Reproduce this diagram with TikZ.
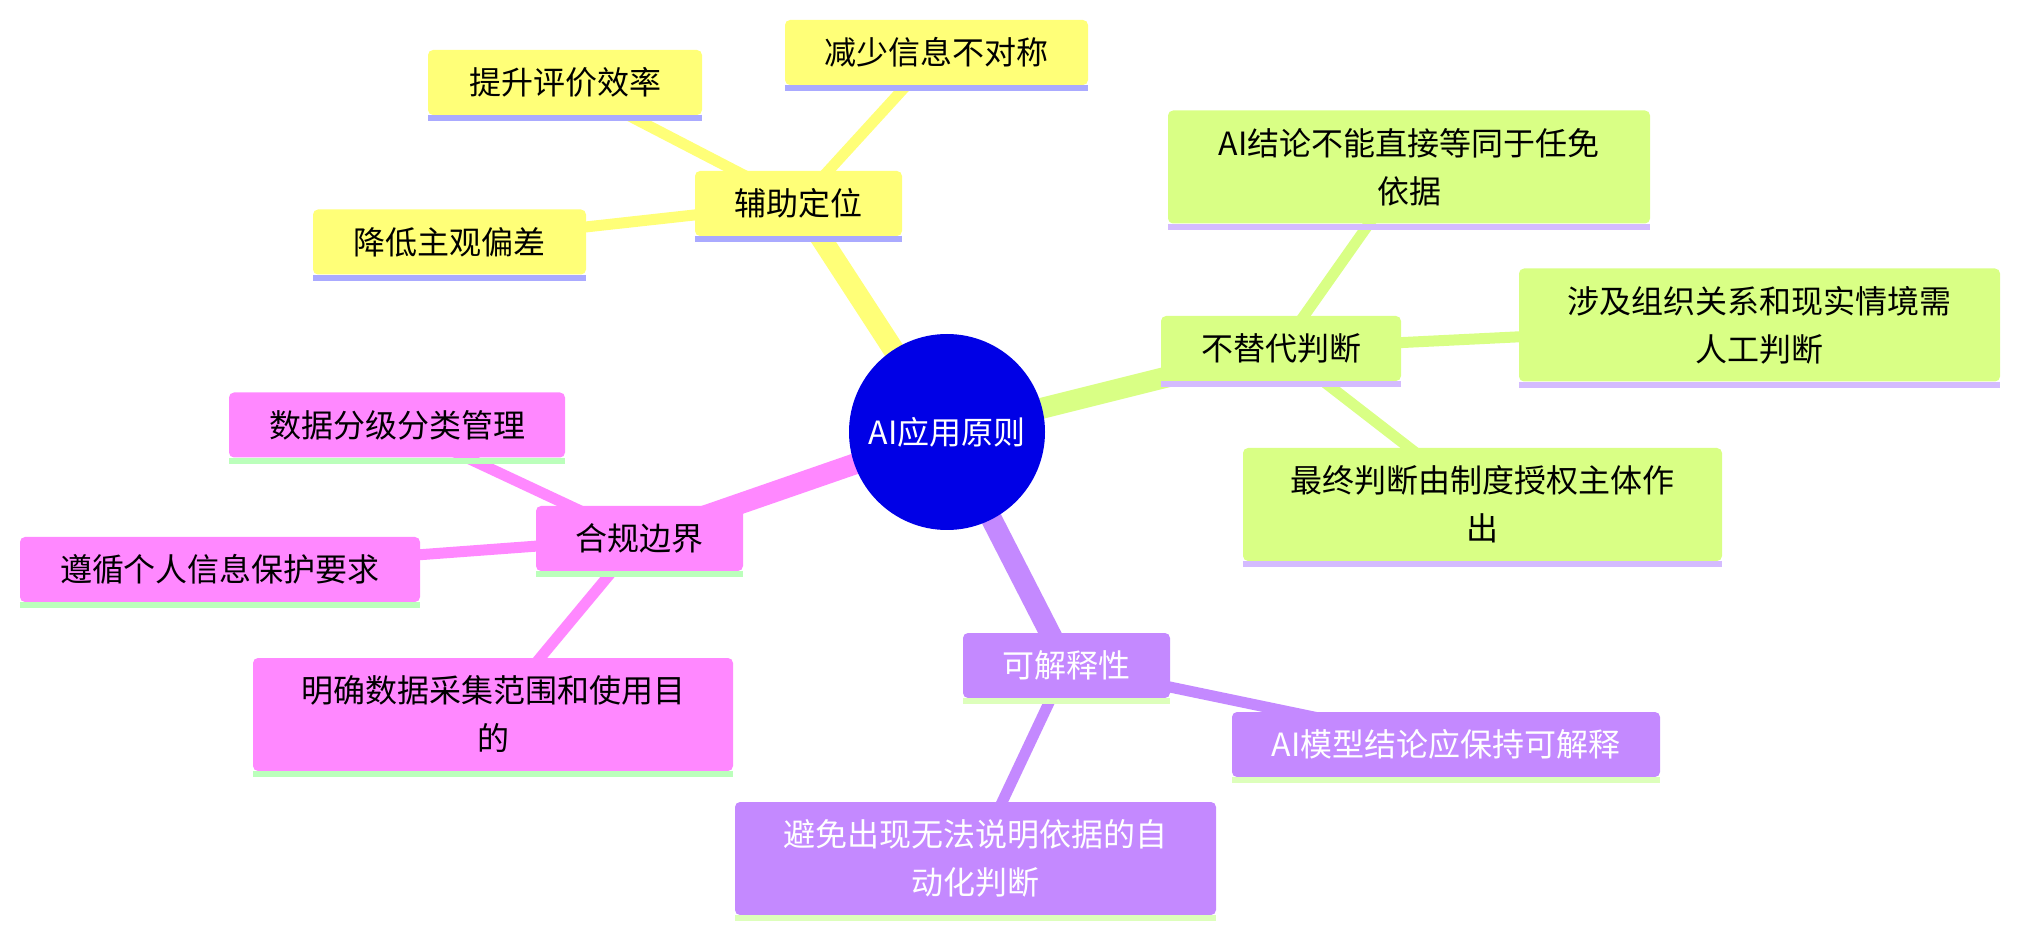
\documentclass[tikz,border=0pt]{standalone}
\usepackage{fontspec}
\setmainfont{Noto Sans CJK SC}
\usetikzlibrary{backgrounds}
\definecolor{croot}{HTML}{0000E6}
\definecolor{cyellow}{HTML}{FFFF78}
\definecolor{cyellowbar}{HTML}{AAAAFF}
\definecolor{cgreen}{HTML}{D9FF85}
\definecolor{cgreenbar}{HTML}{D4BBFF}
\definecolor{cpink}{HTML}{FF88FF}
\definecolor{cpinkbar}{HTML}{BBFFBB}
\definecolor{cpurple}{HTML}{C489FF}
\definecolor{cpurplebar}{HTML}{DDFFBB}
\tikzset{
  every picture/.style={font=\fontsize{24}{36}\selectfont},
  box/.style={fill=#1, rounded corners=3.75pt, align=center, inner sep=0pt},
  box/.default=cyellow,
  rootnode/.style={circle, fill=croot, text=white, minimum size=147pt, inner sep=0pt},
  trunk/.style={draw=#1, line width=15.75pt},
  twig/.style={draw=#1, line width=8.25pt},
}
\newcommand{\topic}[7]{
  \node[box=#5, text=#6, minimum width=#3*0.75pt, minimum height=#4*0.75pt] (#1) at (#2) {#7};
  \fill[#5bar] (#1.south west) rectangle ([yshift=-4.5pt]#1.south east);
}

\begin{document}
\begin{tikzpicture}[x=0.75pt, y=-0.75pt]
  \useasboundingbox (0,0) rectangle (2017,937);
  % centre
  \node[rootnode] (root) at (947,432) {AI应用原则};
  % yellow branch
  \topic{aux}{798.5,203.5}{207}{65}{cyellow}{black}{辅助定位}
  \topic{effic}{565,82.5}{274}{65}{cyellow}{black}{提升评价效率}
  \topic{asym}{936.5,52.5}{303}{65}{cyellow}{black}{减少信息不对称}
  \topic{bias}{449.5,242}{273}{65}{cyellow}{black}{降低主观偏差}
  % green branch
  \topic{norepl}{1281,348.5}{240}{65}{cgreen}{black}{不替代判断}
  \topic{basis}{1409,167}{482}{113}{cgreen}{black}{AI结论不能直接等同于任免\\依据}
  \topic{human}{1759.5,325}{481}{113}{cgreen}{black}{涉及组织关系和现实情境需\\人工判断}
  \topic{final}{1482.5,504.5}{479}{113}{cgreen}{black}{最终判断由制度授权主体作\\出}
  % pink branch
  \topic{comp}{639.5,538.5}{207}{65}{cpink}{black}{合规边界}
  \topic{grade}{397,425}{336}{65}{cpink}{black}{数据分级分类管理}
  \topic{privacy}{220,569.5}{400}{65}{cpink}{black}{遵循个人信息保护要求}
  \topic{scope}{493,714.5}{480}{113}{cpink}{black}{明确数据采集范围和使用目\\的}
  % purple branch
  \topic{expl}{1066.5,665.5}{207}{65}{cpurple}{white}{可解释性}
  \topic{model}{1446,744.5}{428}{65}{cpurple}{white}{AI模型结论应保持可解释}
  \topic{auto}{975.5,858.5}{481}{113}{cpurple}{white}{避免出现无法说明依据的自\\动化判断}
  % connectors
  \begin{scope}[on background layer]
    \draw[trunk=cyellow] (root.center) -- (aux.center);
    \draw[trunk=cgreen] (root.center) -- (norepl.center);
    \draw[trunk=cpink] (root.center) -- (comp.center);
    \draw[trunk=cpurple] (root.center) -- (expl.center);
    \foreach \leaf in {effic, asym, bias} \draw[twig=cyellow] (aux.center) -- (\leaf.center);
    \foreach \leaf in {basis, human, final} \draw[twig=cgreen] (norepl.center) -- (\leaf.center);
    \foreach \leaf in {grade, privacy, scope} \draw[twig=cpink] (comp.center) -- (\leaf.center);
    \foreach \leaf in {model, auto} \draw[twig=cpurple] (expl.center) -- (\leaf.center);
  \end{scope}
\end{tikzpicture}
\end{document}
